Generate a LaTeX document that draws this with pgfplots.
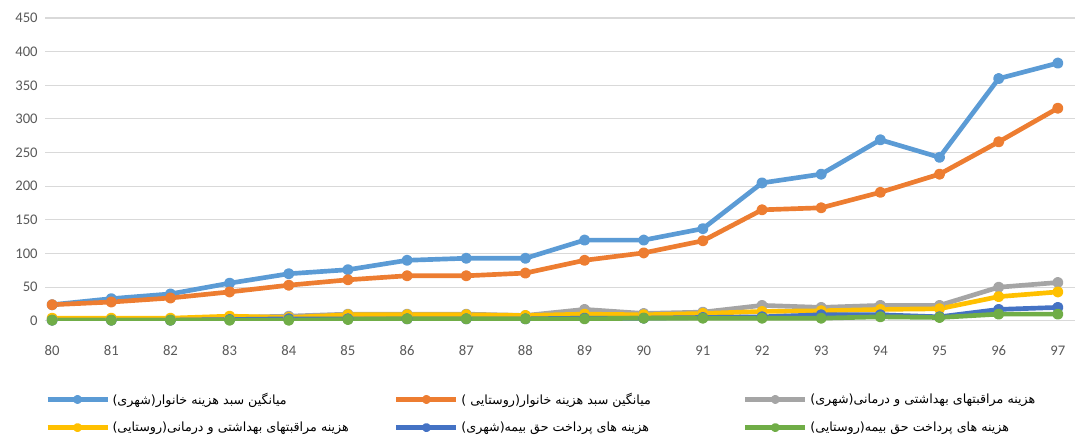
\documentclass[border=0pt]{standalone}
\usepackage{fontspec}
\setmainfont{Carlito}
\newfontfamily\arabicfont[Script=Arabic]{DejaVu Sans}
\TeXXeTstate=1
\usepackage{pgfplots}
\usepackage{pgfplotstable}
\pgfplotsset{compat=1.18}
\definecolor{cA}{HTML}{5B9BD5}
\definecolor{cB}{HTML}{ED7D31}
\definecolor{cC}{HTML}{A5A5A5}
\definecolor{cD}{HTML}{FFC000}
\definecolor{cE}{HTML}{4472C4}
\definecolor{cF}{HTML}{70AD47}
\definecolor{tickgray}{HTML}{595959}
\definecolor{gridgray}{HTML}{D9D9D9}
\pgfplotstableread{
year uh rh uc rc ui ri
80 24 24 3 4 1 1
81 33 28 3 4 1 1
82 40 34 3 4 1 1
83 56 43 5 7 2 1
84 70 53 7 5 3 1
85 76 61 10 9 3 2
86 90 67 10 9 3 3
87 93 67 10 9 3 3
88 93 71 8 8 3 3
89 120 90 17 10 4 3
90 120 101 11 9 4 4
91 137 119 13 11 5 4
92 205 165 23 14 6 4
93 218 168 20 15 9 4
94 269 191 23 17 9 6
95 243 218 23 18 6 5
96 360 266 50 36 17 10
97 383 316 57 43 20 10
}\data
\newcommand{\rtl}[1]{\makebox[209pt][l]{\arabicfont\beginR #1\endR}}
\begin{document}
\begin{tikzpicture}
\begin{axis}[
  name=ax,
  scale only axis,
  width=772pt, height=227pt,
  xmin=79.88, xmax=97.29,
  ymin=0, ymax=450,
  xtick={80,...,97},
  ytick={0,50,...,450},
  axis line style={draw=none},
  axis x line*=bottom,
  tick style={draw=none},
  ymajorgrids, grid style={gridgray, line width=0.8pt},
  ticklabel style={font=\fontsize{11}{13}\selectfont, text=tickgray},
  /pgf/number format/assume math mode=true,
  xticklabel style={yshift=-15pt},
  yticklabel style={xshift=-2pt},
  every axis plot/.append style={line width=3.5pt, mark=*, mark size=2.4pt, line join=round},
  legend columns=3,
  legend style={at={(-0.004,-0.219)}, anchor=north west, draw=none, fill=none,
    font=\fontsize{9.5}{11}\selectfont, row sep=7.7pt, column sep=0pt},
  legend cell align=left,
  legend image code/.code={\draw[#1, mark=none] (0pt,0pt) -- (45pt,0pt); \fill[#1] (22.5pt,0pt) circle (1.6pt);},
]
\addplot[cA] table[x=year,y=uh]{\data};
\addlegendentry{\rtl{میانگین سبد هزینه خانوار(شهری)}}
\addplot[cB] table[x=year,y=rh]{\data};
\addlegendentry{\rtl{میانگین سبد هزینه خانوار(روستایی )}}
\addplot[cC] table[x=year,y=uc]{\data};
\addlegendentry{\rtl{هزینه مراقبتهای بهداشتی و درمانی(شهری)}}
\addplot[cD] table[x=year,y=rc]{\data};
\addlegendentry{\rtl{هزینه مراقبتهای بهداشتی و درمانی(روستایی)}}
\addplot[cE] table[x=year,y=ui]{\data};
\addlegendentry{\rtl{هزینه های پرداخت حق بیمه(شهری)}}
\addplot[cF] table[x=year,y=ri]{\data};
\addlegendentry{\rtl{هزینه های پرداخت حق بیمه(روستایی)}}
\end{axis}
\pgfresetboundingbox
\path[use as bounding box] ([xshift=-33.75pt, yshift=-91.5pt]ax.south west) rectangle ([xshift=6pt, yshift=13.5pt]ax.north east);
\end{tikzpicture}
\end{document}
